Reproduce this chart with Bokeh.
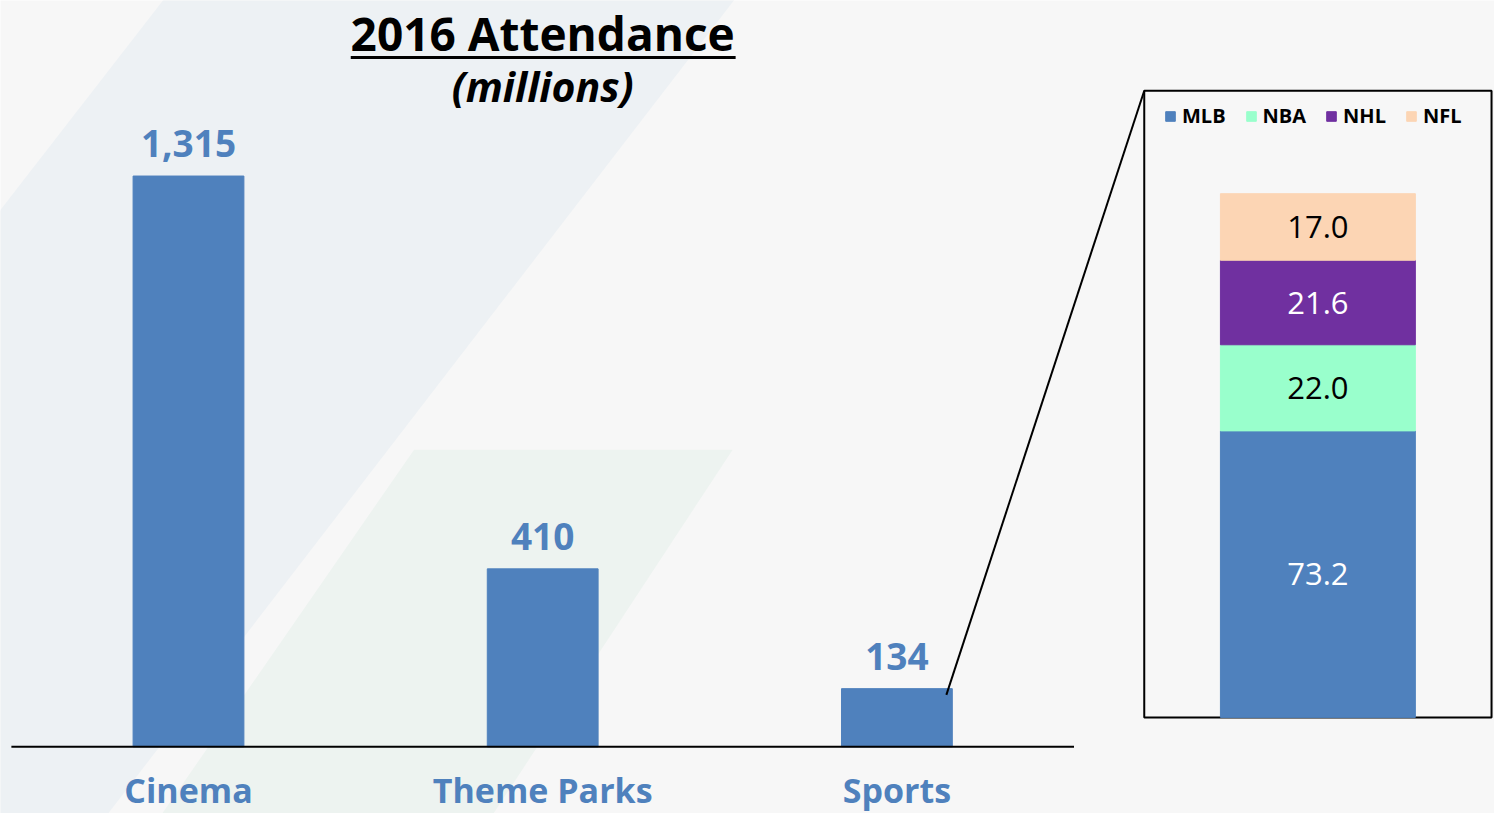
import numpy as np
from bokeh.plotting import figure
from bokeh.models import Range1d, ColumnDataSource, Legend, LegendItem
from bokeh.core.properties import value
from bokeh.embed import file_html
from bokeh.resources import INLINE

# ---------------- data ----------------
categories = ["Cinema", "Theme Parks", "Sports"]
attendance = [1315, 410, 134]
attendance_labels = ["1,315", "410", "134"]

leagues = ["MLB", "NBA", "NHL", "NFL"]
league_attendance = [73.2, 22.0, 21.6, 17.0]
league_labels = ["73.2", "22.0", "21.6", "17.0"]
league_colors = ["#4f81bd", "#99ffcc", "#7030a0", "#fcd5b4"]
league_text_colors = ["white", "black", "white", "black"]

title_text = "2016 Attendance"
subtitle_text = "(millions)"

# ---------------- layout (design coords = 1510 x 829 canvas) ----------------
W, H = 1494, 813
DW, DH = 1510.0, 829.0
FONT = "Open Sans"
BLUE = "#4f81bd"
BG = "#f7f7f7"
ky = H / DH  # screen px per design px (vertical)

unit_px = 358.0          # design px per category
x0_px = 11.0             # design x of category axis start
y_scale = 582.0 / 1315   # design px per million (main)
base_y = 761.0           # design y of baseline

x_range = Range1d(-x0_px / unit_px, (DW - x0_px) / unit_px)
y_range = Range1d(-(DH - base_y) / y_scale, base_y / y_scale)

p = figure(width=W, height=H, x_range=x_range, y_range=y_range,
           x_axis_type=None, y_axis_type=None,
           output_backend="svg", toolbar_location=None, min_border=0,
           background_fill_color=BG, border_fill_color=BG,
           outline_line_color=None)

# inset scales
iy_scale = 534.0 / 133.8
ibase = 731.0
icx = 1331.5
iunit = 197.0
p.extra_x_ranges = {"ix": Range1d(-icx / iunit, (DW - icx) / iunit),
                    "px": Range1d(0, DW)}
p.extra_y_ranges = {"iy": Range1d(-(DH - ibase) / iy_scale, ibase / iy_scale),
                    "px": Range1d(DH, 0)}

# ---------------- background decoration ----------------
p.patch([168, 745, 105, -5, -5], [-5, -5, 834, 834, 220],
        x_range_name="px", y_range_name="px",
        fill_color="#edf1f4", line_color=None)
p.patch([418, 740, 495, 160], [458, 458, 834, 834],
        x_range_name="px", y_range_name="px",
        fill_color="#edf3f0", line_color=None)

# ---------------- main bars ----------------
xs = np.arange(len(categories)) + 0.5
p.vbar(x=xs, top=attendance, width=112.0 / unit_px, bottom=0,
       fill_color=BLUE, line_color=BLUE)
p.segment(x0=[0], y0=[0], x1=[len(categories)], y1=[0],
          line_color="black", line_width=2)

p.text(x=xs, y=attendance, text=attendance_labels,
       text_align="center", text_baseline="middle", y_offset=-33 * ky,
       text_font=value(FONT), text_font_style="bold",
       text_font_size="37px", text_color=BLUE)
p.text(x=xs, y=[0] * len(categories), text=categories,
       text_align="center", text_baseline="middle", y_offset=43,
       text_font=value(FONT), text_font_style="bold",
       text_font_size="34px", text_color=BLUE)

# ---------------- title ----------------
p.text(x=[548], y=[33], text=[title_text], x_range_name="px", y_range_name="px",
       text_align="center", text_baseline="middle",
       text_font=value(FONT), text_font_style="bold",
       text_font_size="46px", text_color="black")
p.segment(x0=[354], y0=[58], x1=[743], y1=[58], x_range_name="px",
          y_range_name="px", line_color="black", line_width=3)
p.text(x=[548], y=[87], text=[subtitle_text], x_range_name="px", y_range_name="px",
       text_align="center", text_baseline="middle",
       text_font=value(FONT), text_font_style="bold italic",
       text_font_size="41px", text_color="black")

# ---------------- inset ----------------
p.quad(left=[1156], right=[1507], top=[92], bottom=[731],
       x_range_name="px", y_range_name="px",
       fill_color=None, line_color="black", line_width=2)
p.segment(x0=[956], y0=[708], x1=[1156], y1=[92], x_range_name="px",
          y_range_name="px", line_color="black", line_width=2)

src = ColumnDataSource({"x": [0]} | {lg: [v] for lg, v in zip(leagues, league_attendance)})
rs = p.vbar_stack(leagues, x="x", width=1, source=src,
                  fill_color=league_colors, line_color=league_colors,
                  x_range_name="ix", y_range_name="iy")

vals = np.array(league_attendance)
mids = np.cumsum(vals) - vals / 2
p.text(x=[0] * len(leagues), y=mids, text=league_labels,
       x_range_name="ix", y_range_name="iy",
       text_align="center", text_baseline="middle",
       text_font=value(FONT), text_font_size="31px",
       text_color=league_text_colors)

legend = Legend(items=[LegendItem(label=lg, renderers=[r]) for lg, r in zip(leagues, rs)],
                orientation="horizontal", location=(1164, 684),
                glyph_width=12, glyph_height=12, label_standoff=6, spacing=19,
                padding=0, margin=0, background_fill_alpha=0,
                border_line_color=None, label_text_font=FONT,
                label_text_font_style="bold", label_text_font_size="20px",
                label_height=20, label_text_color="black")
p.add_layout(legend)

open("out.html", "w").write(file_html(p, INLINE))
